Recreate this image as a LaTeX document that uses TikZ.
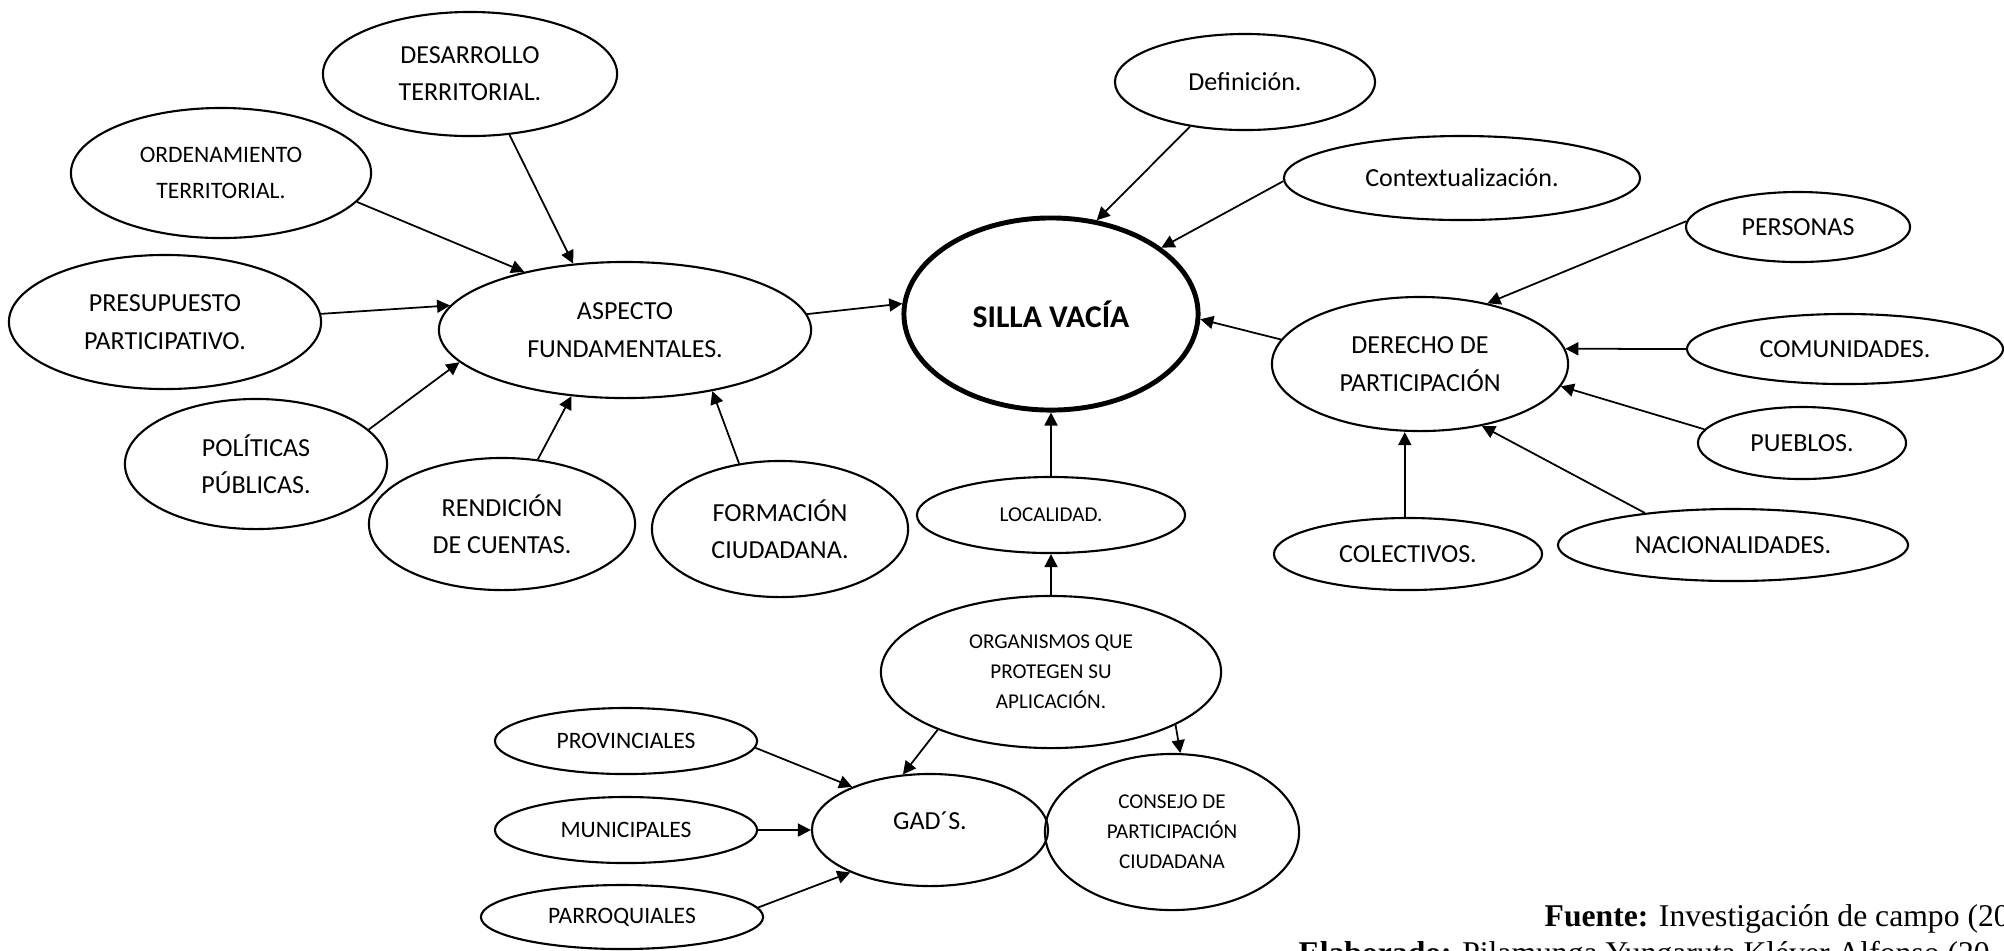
\documentclass[tikz,border=0pt]{standalone}
\usepackage{fontspec}
\setmainfont{Carlito}
\newfontfamily\fuenteserif{Liberation Serif}
\usetikzlibrary{shapes.geometric,arrows.meta}
\tikzset{
  idea/.style={draw, ellipse, line width=0.6pt, inner sep=0pt, align=center},
  letraA/.style={font=\fontsize{7.4pt}{10.6pt}\selectfont},
  letraB/.style={font=\fontsize{6.7pt}{10.2pt}\selectfont},
  letraC/.style={font=\fontsize{6pt}{8.5pt}\selectfont},
  pie/.style={anchor=base west, inner sep=0pt, font=\fuenteserif\fontsize{9pt}{11pt}\selectfont},
  flecha/.style={line width=0.5pt, -{Triangle[length=1.3mm,width=1.3mm]}}
}
\begin{document}
\begin{tikzpicture}[x=0.01cm,y=-0.01cm]
        \useasboundingbox (0,0) rectangle (2004,950);
        \node[idea, line width=1.4pt, minimum width=2.94cm, minimum height=1.92cm, font=\bfseries\fontsize{9pt}{11pt}\selectfont] (silla) at (1051,314) {SILLA VACÍA};
        \node[idea, letraA, minimum width=3.72cm, minimum height=1.36cm] (asp) at (625,330) {ASPECTO\\FUNDAMENTALES.};
        \node[idea, letraA, minimum width=2.94cm, minimum height=1.24cm] (des) at (470,74) {DESARROLLO\\TERRITORIAL.};
        \node[idea, letraB, minimum width=3.00cm, minimum height=1.30cm] (ord) at (221,173) {ORDENAMIENTO\\TERRITORIAL.};
        \node[idea, letraA, minimum width=3.12cm, minimum height=1.34cm] (pre) at (165,322) {PRESUPUESTO\\PARTICIPATIVO.};
        \node[idea, letraA, minimum width=2.62cm, minimum height=1.30cm] (pol) at (256,464) {POLÍTICAS\\PÚBLICAS.};
        \node[idea, letraA, minimum width=2.66cm, minimum height=1.32cm] (ren) at (502,524) {RENDICIÓN\\DE CUENTAS.};
        \node[idea, letraA, minimum width=2.56cm, minimum height=1.36cm] (form) at (780,529) {FORMACIÓN\\CIUDADANA.};
        \node[idea, letraA, minimum width=2.60cm, minimum height=0.96cm] (def) at (1245,82) {Definición.};
        \node[idea, letraA, minimum width=3.56cm, minimum height=0.84cm] (con) at (1462,178) {Contextualización.};
        \node[idea, letraA, minimum width=2.96cm, minimum height=1.34cm] (der) at (1420,364) {DERECHO DE\\PARTICIPACIÓN};
        \node[idea, letraA, minimum width=2.24cm, minimum height=0.70cm] (per) at (1798,227) {PERSONAS};
        \node[idea, letraA, minimum width=3.16cm, minimum height=0.70cm] (com) at (1845,349) {COMUNIDADES.};
        \node[idea, letraA, minimum width=2.08cm, minimum height=0.72cm] (pue) at (1802,443) {PUEBLOS.};
        \node[idea, letraA, minimum width=3.50cm, minimum height=0.72cm] (nac) at (1733,545) {NACIONALIDADES.};
        \node[idea, letraA, minimum width=2.68cm, minimum height=0.72cm] (col) at (1408,554) {COLECTIVOS.};
        \node[idea, letraC, minimum width=2.68cm, minimum height=0.76cm] (loc) at (1051,515) {LOCALIDAD.};
        \node[idea, letraC, minimum width=3.40cm, minimum height=1.52cm] (org) at (1051,672) {ORGANISMOS QUE\\PROTEGEN SU\\APLICACIÓN.};
        \node[idea, letraA, minimum width=2.36cm, minimum height=1.12cm] (gad) at (930,830) {\raisebox{1.5ex}{GAD´S.}};
        \node[idea, letraC, minimum width=2.54cm, minimum height=1.56cm] (cns) at (1172,832) {CONSEJO DE\\PARTICIPACIÓN\\CIUDADANA};
        \node[idea, letraB, minimum width=2.62cm, minimum height=0.66cm] (prv) at (626,741) {PROVINCIALES};
        \node[idea, letraB, minimum width=2.62cm, minimum height=0.66cm] (mun) at (626,830) {MUNICIPALES};
        \node[idea, letraB, minimum width=2.82cm, minimum height=0.64cm] (par) at (622,917) {PARROQUIALES};
        \node[pie] (fue) at (1544,926) {\textbf{Fuente:} Investigación de campo (20};
        \node[pie] (ela) at (1298,963) {\textbf{Elaborado:} Pilamunga Yungaruta Kléver Alfonso (20};
        \draw[flecha] (des.-57) -- (asp.128);
        \draw[flecha] (ord.-12) -- (asp.150);
        \draw[flecha] (pre.3) -- (asp.172);
        \draw[flecha] (pol.17) -- (asp.191);
        \draw[flecha] (ren.61) -- (asp.231);
        \draw[flecha] (form.122) -- (asp.-35);
        \draw[flecha] (asp.5) -- (silla.176);
        \draw[flecha] (def.219) -- (silla.64);
        \draw[flecha] (con.181) -- (silla.31);
        \draw[flecha] (der.170) -- (silla.-2);
        \draw[flecha] (loc) -- (silla);
        \draw[flecha] (org) -- (loc);
        \draw[flecha] (per.177) -- (der.42);
        \draw[flecha] (com.west) -- (der.6);
        \draw[flecha] (pue.172) -- (der.-9);
        \draw[flecha] (nac.160) -- (der.-45);
        \draw[flecha] (col.95) -- (col.95 |- der.south);
        \draw[flecha] (prv.-3) -- (gad.151);
        \draw[flecha] (mun) -- (gad);
        \draw[flecha] (par.4) -- (gad.208);
        \draw[flecha] (org.207) -- (gad.116);
        \draw[flecha] (org.-23) -- (cns.84);
\end{tikzpicture}
\end{document}
